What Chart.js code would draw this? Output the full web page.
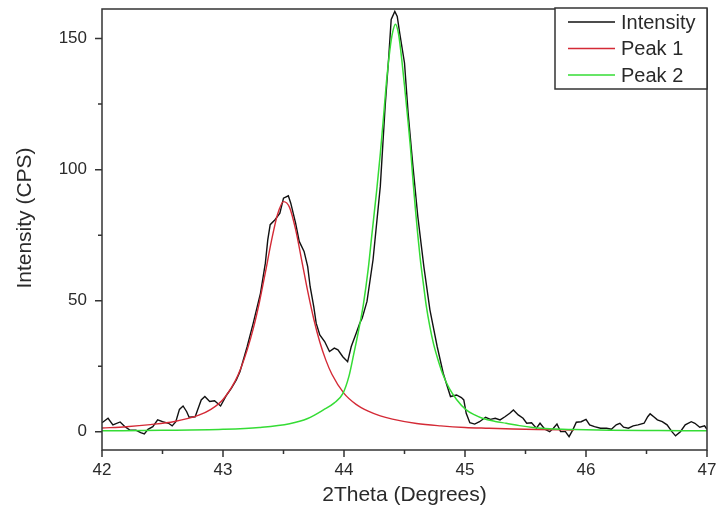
<!DOCTYPE html>
<html>
<head>
<meta charset="utf-8">
<script src="https://cdn.jsdelivr.net/npm/chart.js@4/dist/chart.umd.min.js"></script>
<style>
  html, body { margin: 0; padding: 0; background: #fff; }
  #wrap { width: 717px; height: 517px; }
</style>
</head>
<body>
<div id="wrap"><canvas id="c" width="717" height="517"></canvas></div>
<script>
// Measured diffraction intensity (2θ in degrees, counts per second)
const thetaIntensity = [
  42.00, 42.05, 42.09, 42.15, 42.19, 42.23, 42.28, 42.32, 42.35, 42.38,
  42.42, 42.46, 42.50, 42.55, 42.58, 42.61, 42.64, 42.67, 42.70, 42.72,
  42.77, 42.79, 42.82, 42.85, 42.89, 42.93, 42.98, 43.03, 43.07, 43.11,
  43.14, 43.20, 43.25, 43.31, 43.35, 43.37, 43.39, 43.43, 43.47, 43.50,
  43.54, 43.56, 43.60, 43.63, 43.67, 43.70, 43.72, 43.75, 43.77, 43.80,
  43.84, 43.88, 43.92, 43.95, 43.99, 44.03, 44.06, 44.10, 44.13, 44.15,
  44.19, 44.24, 44.30, 44.34, 44.37, 44.39, 44.42, 44.44, 44.46, 44.50,
  44.53, 44.57, 44.61, 44.66, 44.71, 44.77, 44.82, 44.85, 44.88, 44.93,
  44.97, 44.99, 45.01, 45.04, 45.08, 45.12, 45.17, 45.21, 45.25, 45.29,
  45.33, 45.37, 45.40, 45.44, 45.48, 45.51, 45.55, 45.59, 45.62, 45.66,
  45.70, 45.73, 45.76, 45.79, 45.83, 45.86, 45.89, 45.92, 45.96, 46.00,
  46.03, 46.07, 46.12, 46.17, 46.21, 46.25, 46.28, 46.31, 46.35, 46.39,
  46.43, 46.48, 46.51, 46.53, 46.56, 46.59, 46.63, 46.67, 46.71, 46.74,
  46.78, 46.82, 46.87, 46.90, 46.94, 46.98, 47.00
];
const intensity = [
  3.4, 5.1, 2.6, 3.7, 1.9, 0.6, 0.6, -0.4, -0.9, 0.9,
  1.9, 4.5, 3.8, 3.2, 2.2, 3.8, 8.5, 9.8, 7.6, 5.5,
  5.7, 8.3, 12.1, 13.4, 11.5, 11.8, 9.8, 14.0, 16.6, 19.7,
  22.9, 32.5, 41.4, 52.9, 64.3, 73.2, 79.0, 80.9, 83.4, 89.1,
  90.0, 87.2, 79.6, 72.6, 68.8, 63.0, 55.4, 47.7, 41.4, 36.9,
  34.4, 30.6, 31.9, 31.2, 28.6, 26.7, 32.5, 37.5, 41.4, 43.3,
  49.7, 65.6, 93.6, 124.1, 143.2, 157.3, 160.4, 158.5, 152.2, 140.7,
  121.6, 101.2, 82.1, 63.0, 46.5, 32.5, 22.3, 17.8, 13.4, 14.0,
  13.0, 12.1, 7.0, 3.4, 2.9, 3.8, 5.5, 4.7, 5.1, 4.5,
  5.7, 7.0, 8.3, 6.4, 5.1, 3.2, 3.4, 1.3, 3.2, 0.9,
  0.0, 1.3, 2.9, 0.0, 0.0, -1.9, 0.6, 3.6, 3.8, 4.7,
  2.6, 1.9, 1.3, 1.3, 0.9, 2.6, 3.2, 1.7, 1.3, 2.2,
  2.6, 3.2, 5.7, 6.8, 5.7, 4.5, 3.8, 2.6, 0.0, -1.6,
  0.0, 2.6, 3.8, 3.2, 1.7, 2.2, 0.9
];

// Fitted component 1
const thetaPeak1 = [
  42.0, 42.2, 42.4, 42.6, 42.8, 42.9, 43.0, 43.1, 43.15, 43.2,
  43.25, 43.3, 43.35, 43.4, 43.45, 43.5, 43.55, 43.6, 43.65, 43.7,
  43.75, 43.8, 43.85, 43.9, 44.0, 44.1, 44.2, 44.3, 44.4, 44.6,
  44.8, 45.0, 45.2, 45.4, 45.6, 45.9
];
const peak1 = [
  1.4, 1.9, 2.7, 3.9, 6.3, 8.5, 12.3, 19.3, 24.5, 31.2,
  39.3, 49.2, 60.7, 72.7, 82.8, 87.8, 85.6, 77.2, 65.5, 53.6,
  43.0, 34.2, 27.3, 21.9, 14.6, 10.4, 7.8, 6.0, 4.8, 3.1,
  2.2, 1.6, 1.3, 1.0, 0.8, 0.6
];

// Fitted component 2
const thetaPeak2 = [
  42.0, 42.5, 43.0, 43.3, 43.55, 43.7, 43.83, 43.92, 43.99, 44.04,
  44.08, 44.12, 44.16, 44.2, 44.23, 44.27, 44.3, 44.33, 44.35, 44.38,
  44.4, 44.425, 44.45, 44.47, 44.5, 44.53, 44.55, 44.57, 44.59, 44.61,
  44.63, 44.66, 44.68, 44.71, 44.74, 44.78, 44.82, 44.87, 44.93, 45.01,
  45.08, 45.15, 45.25, 45.34, 45.45, 45.56, 45.7, 45.9, 46.2, 46.6,
  47.0
];
const peak2 = [
  0.3, 0.5, 0.9, 1.6, 3.0, 5.0, 8.3, 11.0, 14.5, 21.0,
  29.5, 38.5, 48.5, 62.0, 75.0, 92.0, 106.0, 122.0, 133.0, 146.0,
  152.0, 155.5, 152.0, 145.0, 132.0, 118.0, 108.0, 96.0, 85.0, 75.0,
  66.0, 55.0, 48.0, 40.0, 33.5, 27.0, 21.5, 16.5, 12.3, 8.3,
  6.4, 5.0, 3.9, 3.2, 2.3, 1.6, 1.1, 0.8, 0.5, 0.4,
  0.3
];

// Axis ticks
const xMajorTicks = [42, 43, 44, 45, 46, 47];
const xMinorTicks = [42.5, 43.5, 44.5, 45.5, 46.5];
const yMajorTicks = [0, 50, 100, 150];
const yMinorTicks = [25, 75, 125];

const seriesNames = ['Intensity', 'Peak 1', 'Peak 2'];
const seriesColors = ['#111111', '#d42a36', '#35dc35'];

const pts = (xs, ys) => xs.map((x, i) => ({ x: x, y: ys[i] }));

const textColor = '#2a2a2a';
const frameColor = '#333333';
const fontFamily = 'Arial, "Liberation Sans", Helvetica, sans-serif';

// Scales keep exactly the box given by the layout padding
const noScalePadding = s => { s.paddingTop = 0; s.paddingBottom = 0; s.paddingLeft = 0; s.paddingRight = 0; };

// Frame, tick marks, axis titles and the boxed legend
const decorations = {
  id: 'decorations',
  afterDraw(chart) {
    const { ctx, chartArea: a, scales: { x, y } } = chart;
    ctx.save();
    ctx.strokeStyle = frameColor;
    ctx.lineWidth = 1.5;
    ctx.strokeRect(a.left, a.top, a.right - a.left, a.bottom - a.top);

    ctx.beginPath();
    xMajorTicks.forEach(v => { const p = x.getPixelForValue(v); ctx.moveTo(p, a.bottom); ctx.lineTo(p, a.bottom + 7); });
    xMinorTicks.forEach(v => { const p = x.getPixelForValue(v); ctx.moveTo(p, a.bottom); ctx.lineTo(p, a.bottom + 4); });
    yMajorTicks.forEach(v => { const p = y.getPixelForValue(v); ctx.moveTo(a.left, p); ctx.lineTo(a.left - 7, p); });
    yMinorTicks.forEach(v => { const p = y.getPixelForValue(v); ctx.moveTo(a.left, p); ctx.lineTo(a.left - 4, p); });
    ctx.stroke();

    // axis titles
    ctx.fillStyle = textColor;
    ctx.font = '21px ' + fontFamily;
    ctx.textAlign = 'center';
    ctx.textBaseline = 'middle';
    ctx.fillText('2Theta (Degrees)', (a.left + a.right) / 2, 495);
    ctx.save();
    ctx.translate(25, 218);
    ctx.rotate(-Math.PI / 2);
    ctx.fillText('Intensity (CPS)', 0, 0);
    ctx.restore();

    // legend
    const lx = 555, ly = 8, lw = a.right - 555, lh = 81;
    ctx.fillStyle = '#ffffff';
    ctx.fillRect(lx, ly, lw, lh);
    ctx.strokeStyle = frameColor;
    ctx.lineWidth = 1.5;
    ctx.strokeRect(lx, ly, lw, lh);
    ctx.font = '20px ' + fontFamily;
    ctx.textAlign = 'left';
    const rows = [22, 48.5, 75];
    chart.data.datasets.forEach((ds, i) => {
      ctx.strokeStyle = ds.borderColor;
      ctx.lineWidth = 1.5;
      ctx.beginPath();
      ctx.moveTo(568, rows[i]);
      ctx.lineTo(615, rows[i]);
      ctx.stroke();
      ctx.fillStyle = textColor;
      ctx.fillText(ds.label, 621, rows[i] + 1);
    });
    ctx.restore();
  }
};

new Chart(document.getElementById('c'), {
  type: 'scatter',
  data: {
    datasets: [
      {
        label: seriesNames[0], data: pts(thetaIntensity, intensity),
        showLine: true, borderColor: seriesColors[0], borderWidth: 1.4,
        pointRadius: 0, tension: 0, order: 3
      },
      {
        label: seriesNames[1], data: pts(thetaPeak1, peak1),
        showLine: true, borderColor: seriesColors[1], borderWidth: 1.4,
        pointRadius: 0, cubicInterpolationMode: 'monotone', order: 2
      },
      {
        label: seriesNames[2], data: pts(thetaPeak2, peak2),
        showLine: true, borderColor: seriesColors[2], borderWidth: 1.5,
        pointRadius: 0, cubicInterpolationMode: 'monotone', order: 1
      }
    ]
  },
  options: {
    responsive: false,
    animation: false,
    devicePixelRatio: 1,
    layout: { padding: { left: 0, right: 10, top: 9, bottom: 0 } },
    plugins: { legend: { display: false }, tooltip: { enabled: false } },
    scales: {
      x: {
        type: 'linear', min: 42, max: 47,
        grid: { display: false, drawTicks: false },
        border: { display: false },
        ticks: { color: textColor, font: { size: 17, family: fontFamily }, padding: 10, maxRotation: 0 },
        afterBuildTicks: s => { s.ticks = xMajorTicks.map(v => ({ value: v })); },
        afterFit: s => { s.height = 67; noScalePadding(s); }
      },
      y: {
        type: 'linear', min: -7, max: 161.3,
        grid: { display: false, drawTicks: false },
        border: { display: false },
        ticks: { color: textColor, font: { size: 17, family: fontFamily }, padding: 15 },
        afterBuildTicks: s => { s.ticks = yMajorTicks.map(v => ({ value: v })); },
        afterFit: s => { s.width = 102; noScalePadding(s); }
      }
    }
  },
  plugins: [decorations]
});
</script>
</body>
</html>
